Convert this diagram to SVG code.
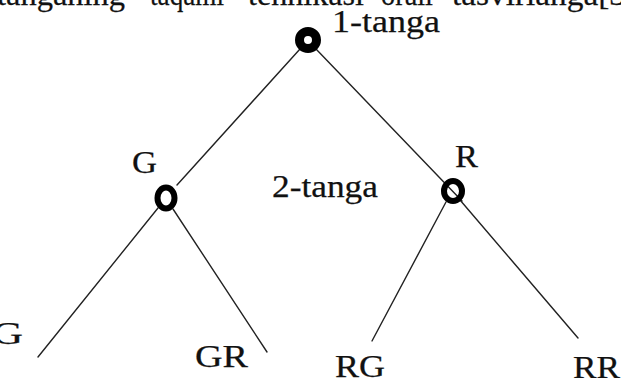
<svg xmlns="http://www.w3.org/2000/svg" width="621" height="378" viewBox="0 0 621 378">
  <style>
    .lbl { font-family: "Liberation Serif", "Times New Roman", serif; font-size: 31px; fill: #111; stroke: #111; stroke-width: 0.25; }
    .edge { stroke: #222; stroke-width: 1.4; fill: none; stroke-linecap: round; }
    .ring { fill: none; stroke: #000; }
  </style>
  <rect width="621" height="378" fill="#fff"/>

  <!-- line of running text cut off by the top edge -->
  <g id="running-text" class="lbl" style="font-size:32px">
    <text x="-3" y="5" textLength="128" lengthAdjust="spacingAndGlyphs">tanganing</text>
    <text x="150" y="5" textLength="74" lengthAdjust="spacingAndGlyphs">taqami</text>
    <text x="248" y="5" textLength="116" lengthAdjust="spacingAndGlyphs">tehnikasi</text>
    <text x="381" y="5" textLength="52" lengthAdjust="spacingAndGlyphs">orali</text>
    <text x="452" y="5" textLength="174" lengthAdjust="spacingAndGlyphs">tasvirlanga[3</text>
  </g>

  <!-- connectors -->
  <g id="edges">
    <line class="edge" x1="300" y1="49" x2="177" y2="185"/>
    <line class="edge" x1="316" y1="49" x2="462" y2="201"/>
    <line class="edge" x1="158" y1="208" x2="38" y2="357"/>
    <line class="edge" x1="173" y1="209" x2="267" y2="352"/>
    <line class="edge" x1="446" y1="202" x2="372" y2="341"/>
    <line class="edge" x1="460" y1="200" x2="578" y2="338"/>
  </g>

  <!-- nodes -->
  <g id="root">
    <circle class="ring" cx="308" cy="40" r="8.5" stroke-width="9"/>
    <text class="lbl" x="332" y="32" textLength="108" lengthAdjust="spacingAndGlyphs">1-tanga</text>
  </g>
  <g id="node-G">
    <ellipse class="ring" cx="166" cy="198" rx="8.5" ry="10.5" stroke-width="6"/>
    <text class="lbl" x="132" y="173" textLength="25" lengthAdjust="spacingAndGlyphs">G</text>
  </g>
  <g id="node-R">
    <ellipse class="ring" cx="453" cy="191" rx="9" ry="10" stroke-width="6"/>
    <text class="lbl" x="455" y="167" textLength="23" lengthAdjust="spacingAndGlyphs">R</text>
  </g>
  <g id="level-2">
    <text class="lbl" x="272" y="197" textLength="106" lengthAdjust="spacingAndGlyphs">2-tanga</text>
  </g>
  <g id="leaf-GG">
    <text class="lbl" x="-8" y="344" textLength="31" lengthAdjust="spacingAndGlyphs">G</text>
  </g>
  <g id="leaf-GR">
    <text class="lbl" x="195" y="367" textLength="53" lengthAdjust="spacingAndGlyphs">GR</text>
  </g>
  <g id="leaf-RG">
    <text class="lbl" x="335" y="377" textLength="50" lengthAdjust="spacingAndGlyphs">RG</text>
  </g>
  <g id="leaf-RR">
    <text class="lbl" x="573" y="378" textLength="47" lengthAdjust="spacingAndGlyphs">RR</text>
  </g>
</svg>
